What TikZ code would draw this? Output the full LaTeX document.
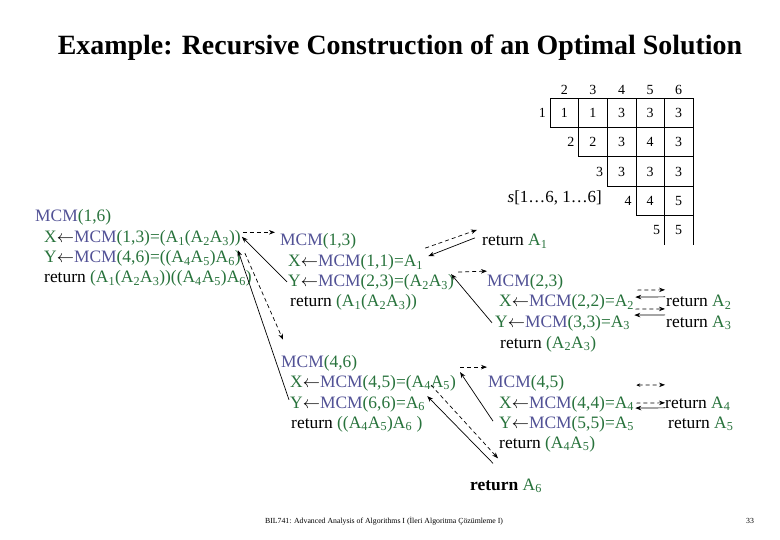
\documentclass[tikz,border=0pt]{standalone}
\usepackage{fontspec}
\setmainfont{Liberation Serif}
\usepackage{tikz}
\usetikzlibrary{calc,arrows.meta}
\definecolor{mcmblue}{RGB}{82,82,150}
\definecolor{agreen}{RGB}{40,115,60}
\newcommand{\mcm}{\textcolor{mcmblue}{MCM}}
\newcommand{\mA}[1]{A\textsubscript{#1}}
\newcommand{\ret}{\textcolor{black}{return}}
\newcommand{\lar}{\textcolor{black}{$\leftarrow$}}

\begin{document}
\begin{tikzpicture}[x=1bp,y=-1bp,>=Stealth,
  line/.style={anchor=base west,inner sep=0pt,text=agreen,font=\fontsize{17.5}{20}\selectfont},
  cell/.style={inner sep=0pt,font=\fontsize{14}{16}\selectfont},
  box/.style={cell,draw,line width=0.6bp,minimum width=28.6bp,minimum height=29.4bp},
  call/.style={-{Stealth[length=6bp,width=4.5bp]},dashed,dash pattern=on 4bp off 3bp,line width=0.7bp},
  back/.style={-{Stealth[length=6bp,width=4.5bp]},line width=0.7bp}]
\fill[white] (0,0) rectangle (780,540);
\useasboundingbox (0,0) rectangle (780,540);

\node[font=\bfseries\fontsize{28}{31}\selectfont] (title) at (400,48) {Example: Recursive Construction of an Optimal Solution};

% table s
\foreach \c [count=\k] in {2,...,6}
  \node[cell,anchor=base] (h\c) at (550+\k*28.6-14.3,95) {\c};
\foreach \r/\vals in {1/{1,1,3,3,3},2/{2,3,4,3},3/{3,3,3},4/{4,5}}{
  \pgfmathsetmacro{\yc}{98+(\r-0.5)*29.4}
  \pgfmathsetmacro{\xl}{550+(\r-1)*28.6}
  \node[cell,anchor=east] (l\r) at (\xl-4,\yc) {\r};
  \foreach \v [count=\k] in \vals {
    \pgfmathsetmacro{\xc}{550+(\r+\k-1.5)*28.6}
    \node[box] (s\r\k) at (\xc,\yc) {\v};
  }
}
\node[cell,anchor=east] (l5) at (660.4,230.3) {5};
\node[cell] (s51) at (678.7,230.3) {5};
\draw[line width=0.6bp] (664.4,245) -- (664.4,215) (693,215) -- (693,245);
\node[cell,anchor=base east,font=\fontsize{17}{19}\selectfont] (slab) at (602,203) {\textit{s}[1…6, 1…6]};

% MCM(1,6)
\node[line] (b1m) at (35,222) {\mcm(1,6)};
\node[line] (b1x) at (44,243) {X\lar\mcm(1,3)=(\mA1(\mA2\mA3))};
\node[line] (b1y) at (44,263) {Y\lar\mcm(4,6)=((\mA4\mA5)\mA6)};
\node[line] (b1r) at (44,283) {\ret{} (\mA1(\mA2\mA3))((\mA4\mA5)\mA6)};

% MCM(1,3)
\node[line] (b2m) at (280,246) {\mcm(1,3)};
\node[line] (b2x) at (288,267) {X\lar\mcm(1,1)=\mA1};
\node[line] (b2y) at (288,287) {Y\lar\mcm(2,3)=(\mA2\mA3)};
\node[line] (b2r) at (290,307) {\ret{} (\mA1(\mA2\mA3))};
\node[line] (r1) at (482,246) {\ret{} \mA1};

% MCM(2,3)
\node[line] (b4m) at (487,287) {\mcm(2,3)};
\node[line] (b4x) at (499,307) {X\lar\mcm(2,2)=\mA2};
\node[line] (b4y) at (495,327) {Y\lar\mcm(3,3)=\mA3};
\node[line] (b4r) at (500,348) {\ret{} (\mA2\mA3)};
\node[line] (r2) at (666,307) {\ret{} \mA2};
\node[line] (r3) at (666,327) {\ret{} \mA3};

% MCM(4,6)
\node[line] (b6m) at (281,367) {\mcm(4,6)};
\node[line] (b6x) at (290,387) {X\lar\mcm(4,5)=(\mA4\mA5)};
\node[line] (b6y) at (290,408) {Y\lar\mcm(6,6)=\mA6};
\node[line] (b6r) at (291,428) {\ret{} ((\mA4\mA5)\mA6 )};

% MCM(4,5)
\node[line] (b7m) at (488,387) {\mcm(4,5)};
\node[line] (b7x) at (499,408) {X\lar\mcm(4,4)=\mA4};
\node[line] (b7y) at (499,428) {Y\lar\mcm(5,5)=\mA5};
\node[line] (b7r) at (499,448) {\ret{} (\mA4\mA5)};
\node[line] (r4) at (665,408) {\ret{} \mA4};
\node[line] (r5) at (668,428) {\ret{} \mA5};
\node[line] (r6) at (470,490) {\textbf{\ret} \mA6};

% calls and returns
\draw[call] ($(b1x.east)+(2,-6.5)$) -- ($(b2m.west)+(-5,-9.5)$);
\draw[back] ($(b2y.west)+(-1,-1)$) -- ($(b1x.east)+(1,-2)$);
\draw[call] ($(b1y.east)+(4,-5.7)$) -- ($(b6m.north west)+(2,-15)$);
\draw[back] ($(b6y.west)+(-1,-4)$) -- ($(b1y.east)+(-3,-8.7)$);
\draw[call] ($(b2x.east)+(2,-14.7)$) -- ($(r1.west)+(-5,-11.7)$);
\draw[back] ($(r1.west)+(-7,-3.7)$) -- ($(b2x.east)+(5,-6.7)$);
\draw[call] ($(b2y.east)+(4,-10.7)$) -- ($(b4m.west)+(0,-11.7)$);
\draw[back] ($(b4y.west)+(-3,0)$) -- ($(b2y.east)+(-3,-8.7)$);
\draw[call] ($(b4x.east)+(3,-12.7)$) -- ($(r2.west)+(-1,-12.7)$);
\draw[back] ($(r2.west)+(-1,-5.7)$) -- ($(b4x.east)+(1,-5.7)$);
\draw[call] ($(b4y.east)+(5,-13.7)$) -- ($(r3.west)+(-1,-13.7)$);
\draw[back] ($(r3.west)+(-1,-7.7)$) -- ($(b4y.east)+(4,-7.7)$);
\draw[call] ($(b6x.east)+(4,-15.7)$) -- ($(b7m.west)+(-1,-15.7)$);
\draw[back] ($(b7y.west)+(-6,-2.7)$) -- ($(b6x.east)+(4,-10.7)$);
\draw[call] ($(b6x.east)+(-25,2.3)$) -- ($(r6.north west)+(28,-20)$);
\draw[back] ($(r6.north west)+(23,-15)$) -- ($(b6y.east)+(2,-7.7)$);
\draw[call,{Stealth[length=4bp,width=3.5bp]}-{Stealth[length=6bp,width=4.5bp]}] ($(b7x.east)+(2,-18.7)$) -- ($(r4.west)+(0,-18.7)$);
\draw[call] ($(b7x.east)+(2,-0.7)$) -- ($(r4.west)+(0,-0.7)$);
\draw[back] ($(r4.west)+(0,4.3)$) -- ($(b7x.east)+(1,4.3)$);

\node[anchor=base west,inner sep=0pt,font=\fontsize{7.8}{9}\selectfont] (foot) at (265,523) {BIL741: Advanced Analysis of Algorithms I (İleri Algoritma Çözümleme I)};
\node[anchor=base west,inner sep=0pt,font=\fontsize{7.8}{9}\selectfont] (page) at (746,523) {33};
\end{tikzpicture}
\end{document}
